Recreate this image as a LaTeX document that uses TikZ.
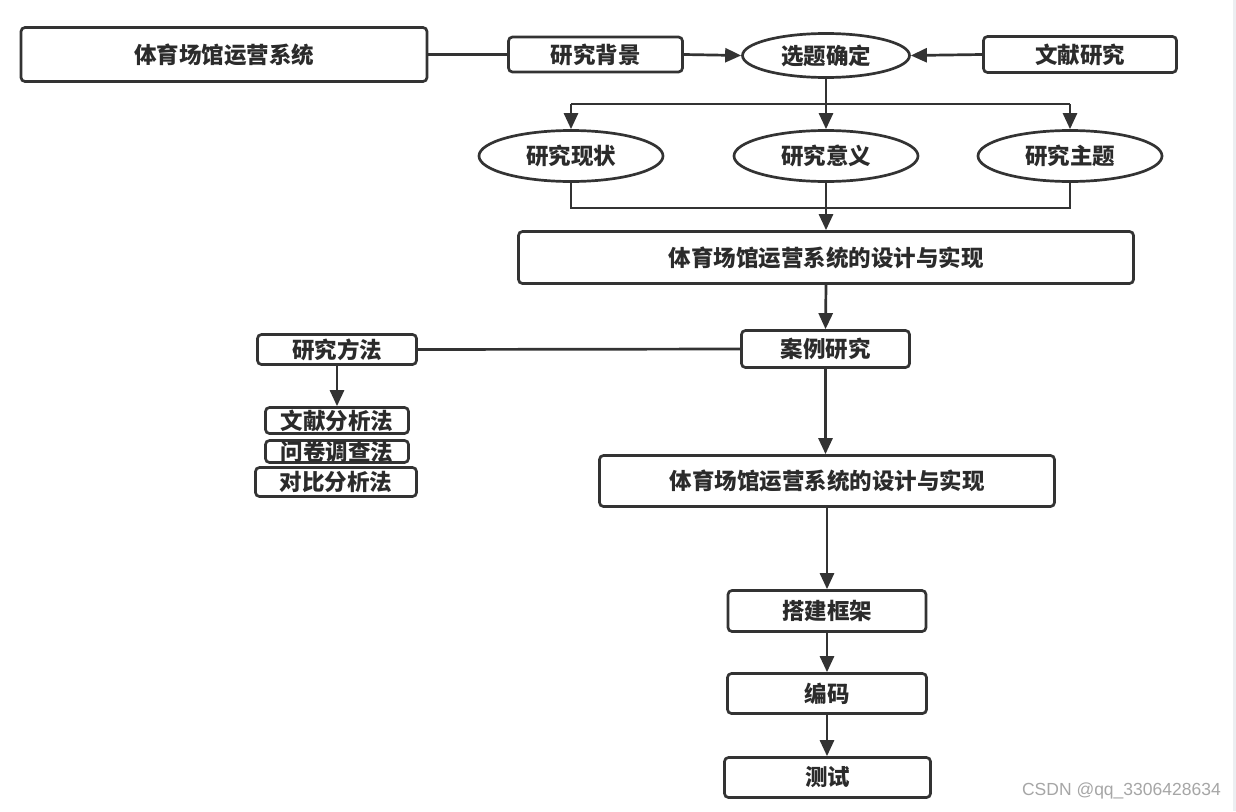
\documentclass[tikz,border=0pt]{standalone}
\usepackage{fontspec}
\setmainfont{Noto Sans CJK SC}
\newfontfamily\wmfont{Liberation Sans}
\usetikzlibrary{arrows.meta,shapes.geometric}
\definecolor{lc}{HTML}{333333}
\definecolor{tc}{HTML}{2B2B2B}
\definecolor{strip}{HTML}{ECEEF1}
\begin{document}
\begin{tikzpicture}[x=1pt,y=-1pt,
  lbl/.style={font=\bfseries\fontsize{22.5}{22.5}\selectfont, text=tc},
  box/.style={lbl, draw=lc, line width=2.7pt, rounded corners=4pt, fill=white, inner sep=0pt, minimum width=#1},
  ell/.style={lbl, ellipse, draw=lc, line width=2.7pt, fill=white, inner sep=0pt, minimum width=184pt, minimum height=51pt},
  conn/.style={draw=lc, line width=2.7pt},
  arr/.style={conn, -{Triangle[length=16pt,width=14pt]}}]
\useasboundingbox (0,0) rectangle (1236,811);
\fill[white] (0,0) rectangle (1236,811);
\fill[strip] (1233,0) rectangle (1236,811);

% top row
\node[box=406pt, minimum height=54pt] (sys) at (224,54.5) {体育场馆运营系统};
\node[box=174pt, minimum height=35pt] (bg) at (595.5,54.5) {研究背景};
\node[lbl, ellipse, draw=lc, line width=2.7pt, fill=white, inner sep=0pt, minimum width=167pt, minimum height=44pt] (topic) at (826,55.5) {选题确定};
\node[box=193pt, minimum height=36pt] (lit) at (1080,54.5) {文献研究};

% ellipses
\node[ell] (e1) at (571,156) {研究现状};
\node[ell] (e2) at (826,156) {研究意义};
\node[ell] (e3) at (1070,156) {研究主题};

% main boxes
\node[box=615pt, minimum height=52pt] (b1) at (826,257.5) {体育场馆运营系统的设计与实现};
\node[box=168pt, minimum height=37pt] (case) at (825.5,349) {案例研究};
\node[box=159pt, minimum height=30pt] (meth) at (337,349.5) {研究方法};
\node[box=143pt, minimum height=26pt] (m1) at (337,420.5) {文献分析法};
\node[box=143pt, minimum height=22pt] (m2) at (337,451.5) {问卷调查法};
\node[box=161pt, minimum height=29pt] (m3) at (336,482) {对比分析法};
\node[box=455pt, minimum height=51pt] (b2) at (827,481) {体育场馆运营系统的设计与实现};
\node[box=198pt, minimum height=41pt] (frame) at (827,611) {搭建框架};
\node[box=199pt, minimum height=40pt] (code) at (827,693.5) {编码};
\node[box=206pt, minimum height=40pt] (test) at (827.5,777.5) {测试};

% connectors top row
\draw[conn] (sys.east) -- (bg.west);
\draw[arr] (bg.east) -- (topic.west);
\draw[arr] (lit.west) -- (topic.east);

% fan out
\coordinate (j1) at (826,104);
\draw[conn] (topic.south) -- (j1);
\draw[conn] (e1.north |- j1) -- (e3.north |- j1);
\draw[arr] (e1.north |- j1) -- (e1.north);
\draw[arr] (j1) -- (e2.north);
\draw[arr] (e3.north |- j1) -- (e3.north);

% fan in
\coordinate (j2) at (826,208);
\draw[conn] (e1.south) |- (j2) -| (e3.south);
\draw[conn] (e2.south) -- (j2);
\draw[arr] (j2) -- (b1.north);

% lower chain
\draw[arr] (b1.south) -- (case.north);
\draw[conn] (meth.east) -- (case.west);
\draw[arr] (meth.south) -- (m1.north);
\draw[arr] (case.south) -- (case.south |- b2.north);
\draw[arr] (b2.south) -- (b2.south |- frame.north);
\draw[arr] (frame.south) -- (code.north);
\draw[arr] (code.south) -- (code.south |- test.north);

% watermark
\node[anchor=east, text=gray!70, font=\wmfont\fontsize{17.5}{17.5}\selectfont, inner sep=0pt] (wm) at (1221,791) {CSDN @qq\_3306428634};
\end{tikzpicture}
\end{document}
